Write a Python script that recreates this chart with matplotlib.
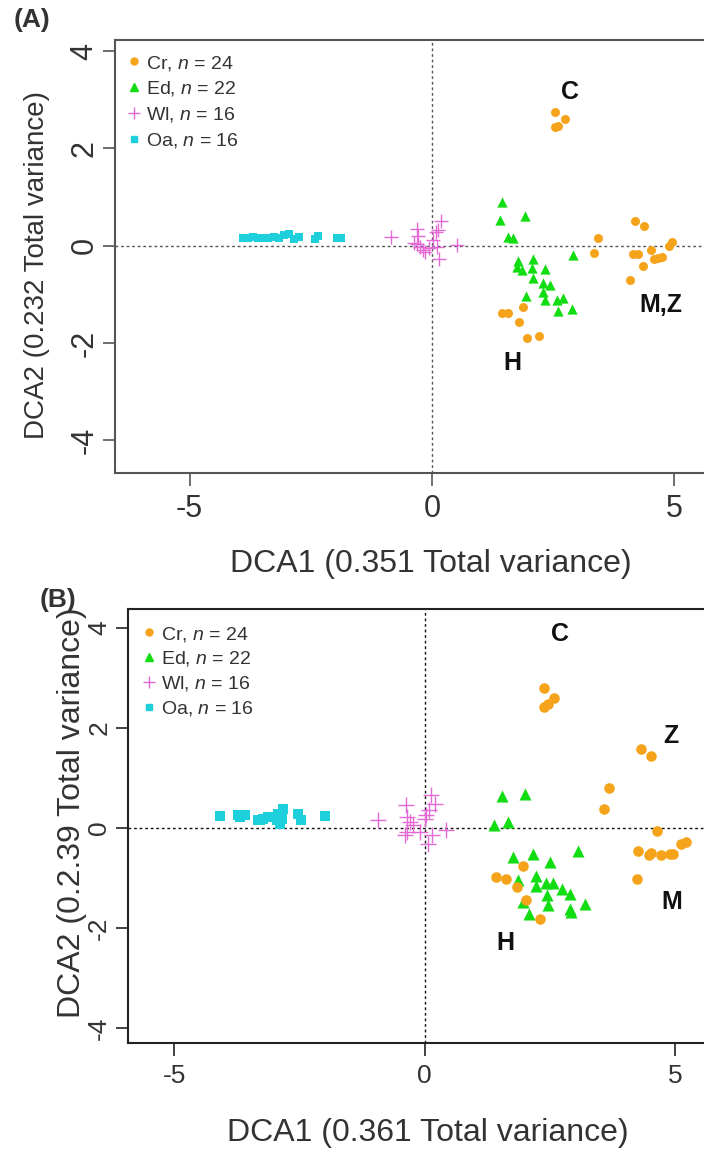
import numpy as np
import matplotlib
matplotlib.use('Agg')
import matplotlib.pyplot as plt
from matplotlib.lines import Line2D

plt.rcParams['font.family'] = ['Liberation Sans', 'DejaVu Sans']
plt.rcParams['mathtext.fontset'] = 'custom'
plt.rcParams['mathtext.rm'] = 'Liberation Sans'
plt.rcParams['mathtext.it'] = 'Liberation Sans:italic'
plt.rcParams['axes.unicode_minus'] = False

# ---- panel A data ----
a_cr_x = [2.54, 2.75, 2.54, 2.60, 3.43, 3.35, 4.19, 4.38, 4.15, 4.25, 4.51, 4.36,
          4.58, 4.66, 4.74, 4.89, 4.96, 4.08, 1.44, 1.57, 1.88, 1.80, 1.95, 2.21]
a_cr_y = [2.76, 2.60, 2.45, 2.47, 0.17, -0.15, 0.50, 0.40, -0.17, -0.17, -0.08, -0.41,
          -0.27, -0.25, -0.23, -0.01, 0.07, -0.70, -1.38, -1.38, -1.26, -1.56, -1.90, -1.86]
a_ed_x = [1.44, 1.40, 1.92, 1.57, 1.68, 2.90, 1.78, 2.08, 1.75, 1.85, 2.06,
          2.33, 2.09, 2.29, 2.43, 2.29, 1.94, 2.33, 2.57, 2.71, 2.60, 2.88]
a_ed_y = [0.91, 0.53, 0.62, 0.19, 0.16, -0.18, -0.32, -0.27, -0.43, -0.49, -0.46,
          -0.48, -0.66, -0.77, -0.80, -0.94, -1.03, -1.12, -1.12, -1.08, -1.35, -1.30]
a_wl_x = [-0.85, -0.31, -0.29, -0.31, -0.25, -0.19, -0.14, -0.06,
          0.10, 0.08, 0.12, 0.19, 0.52, 0.14, 0.02, -0.37]
a_wl_y = [0.19, 0.35, 0.21, 0.04, -0.02, -0.08, -0.12, -0.04,
          -0.02, 0.29, 0.33, 0.51, 0.02, -0.27, 0.12, 0.06]
a_oa_x = [-3.90, -3.79, -3.69, -3.59, -3.48, -3.38, -3.26, -3.15,
          -3.05, -2.95, -2.84, -2.74, -2.41, -2.35, -1.96, -1.88]
a_oa_y = [0.17, 0.16, 0.18, 0.15, 0.17, 0.16, 0.18, 0.15,
          0.22, 0.25, 0.13, 0.18, 0.14, 0.20, 0.17, 0.17]

# ---- panel B data ----
b_cr_x = [2.38, 2.58, 2.38, 2.45, 4.32, 4.52, 3.67, 3.57, 4.63, 4.26, 4.47, 4.52,
          4.72, 4.89, 4.95, 5.11, 5.21, 4.23, 1.43, 1.63, 1.95, 1.84, 2.01, 2.30]
b_cr_y = [2.81, 2.61, 2.43, 2.48, 1.59, 1.45, 0.81, 0.39, -0.05, -0.46, -0.54, -0.49,
          -0.54, -0.52, -0.51, -0.31, -0.27, -1.01, -0.97, -1.01, -0.76, -1.17, -1.43, -1.81]
b_ed_x = [1.55, 1.99, 1.39, 1.66, 1.75, 2.16, 2.49, 3.05, 1.86, 2.21, 2.21,
          2.42, 2.56, 2.74, 2.89, 2.44, 2.46, 1.95, 2.89, 3.19, 2.08, 2.92]
b_ed_y = [0.64, 0.69, 0.06, 0.13, -0.57, -0.51, -0.67, -0.45, -1.03, -0.96, -1.16,
          -1.09, -1.09, -1.21, -1.32, -1.34, -1.54, -1.47, -1.61, -1.52, -1.72, -1.67]
b_wl_x = [-0.93, -0.38, -0.36, -0.30, -0.36, -0.40, -0.10, 0.00,
          0.03, 0.13, 0.20, 0.09, 0.15, 0.07, 0.43, -0.23]
b_wl_y = [0.16, 0.46, 0.23, 0.13, -0.07, -0.14, -0.07, 0.19,
          0.26, 0.66, 0.49, 0.36, -0.14, -0.31, -0.03, 0.06]
b_oa_x = [-4.08, -3.72, -3.69, -3.59, -3.32, -3.29, -3.22, -3.12,
          -2.95, -2.92, -2.89, -2.85, -2.82, -2.52, -2.46, -1.99]
b_oa_y = [0.24, 0.26, 0.23, 0.26, 0.17, 0.16, 0.19, 0.23,
          0.16, 0.29, 0.09, 0.19, 0.39, 0.28, 0.16, 0.24]

labels = [r'Cr, $n$ = 24', r'Ed, $n$ = 22', r'Wl, $n$ = 16', r'Oa, $n$ = 16']
c_cr, c_ed, c_wl, c_oa = '#F5A31A', '#12DD12', '#E46AD6', '#1ECFDC'

fig = plt.figure(figsize=(7.04, 11.55), dpi=100)


def panel(ax, cr, ed, wl, oa, s, dash_col, spine_col):
    ax.axhline(0, color=dash_col, lw=1, ls=(0, (2, 2)), zorder=1)
    ax.axvline(0, color=dash_col, lw=1, ls=(0, (2, 2)), zorder=1)
    ax.scatter(*oa, marker='s', s=s * 0.9, color=c_oa, lw=0, zorder=3)
    ax.scatter(*wl, marker='+', s=s * 2.4, color=c_wl, lw=1, zorder=3)
    ax.scatter(*ed, marker='^', s=s * 1.3, color=c_ed, lw=0, zorder=3)
    ax.scatter(*cr, marker='o', s=s, color=c_cr, lw=0, zorder=4)
    for side in ['left', 'bottom', 'top']:
        ax.spines[side].set_color(spine_col)
        ax.spines[side].set_linewidth(1.5)
    ax.spines['right'].set_visible(False)
    ax.set_xticks([-5, 0, 5])
    ax.set_yticks([-4, -2, 0, 2, 4])
    ax.tick_params(direction='out', length=9, width=1.2, color=spine_col, labelcolor='#333333')
    for t in ax.get_yticklabels():
        t.set_rotation(90)
        t.set_va('center')
    handles = [Line2D([], [], ls='', marker='o', color=c_cr, markersize=5),
               Line2D([], [], ls='', marker='^', color=c_ed, markersize=6),
               Line2D([], [], ls='', marker='+', color=c_wl, markersize=8, mew=1),
               Line2D([], [], ls='', marker='s', color=c_oa, markersize=5)]
    return handles


bold = dict(fontsize=18, fontweight='bold', ha='center', va='center', color='#111111')

# panel A
axA = fig.add_axes([115 / 704, 1 - 473 / 1155, 1 - 115 / 704, 433 / 1155])
h = panel(axA, (a_cr_x, a_cr_y), (a_ed_x, a_ed_y), (a_wl_x, a_wl_y),
          (a_oa_x, a_oa_y), 42, '#555555', '#555555')
axA.set_xlim(-6.54, 5.61)
axA.set_ylim(-4.67, 4.23)
axA.tick_params(labelsize=22)
axA.tick_params(axis='x', pad=6)
axA.tick_params(axis='y', pad=2)
axA.legend(h, labels, loc='upper left', bbox_to_anchor=(0.0, 1.0), frameon=False,
           fontsize=14, handlelength=0.6, handletextpad=0.3, labelspacing=0.35,
           borderaxespad=0.3, labelcolor='#333333')
axA.set_xlabel('DCA1 (0.351 Total variance)', fontsize=23, color='#333333')
axA.xaxis.set_label_coords(0.537, -0.175)
axA.set_ylabel('DCA2 (0.232 Total variance)', fontsize=20, color='#333333')
axA.yaxis.set_label_coords(-0.11, 0.48)
axA.text(2.85, 3.17, 'C', **bold)
axA.text(1.65, -2.40, 'H', **bold)
axA.text(4.72, -1.21, 'M,Z', **bold)
fig.text(14 / 704, 1 - 20 / 1155, '(A)', fontsize=19, fontweight='bold',
         ha='left', va='center', color='#333333')

# panel B
axB = fig.add_axes([128 / 704, 1 - 1043 / 1155, 1 - 128 / 704, 434 / 1155])
h = panel(axB, (b_cr_x, b_cr_y), (b_ed_x, b_ed_y), (b_wl_x, b_wl_y),
          (b_oa_x, b_oa_y), 58, '#111111', '#222222')
axB.set_xlim(-5.92, 5.57)
axB.set_ylim(-4.30, 4.38)
axB.tick_params(labelsize=19)
axB.tick_params(axis='x', pad=6)
axB.tick_params(axis='y', pad=3)
axB.legend(h, labels, loc='upper left', bbox_to_anchor=(0.0, 1.0), frameon=False,
           fontsize=14, handlelength=0.6, handletextpad=0.3, labelspacing=0.3,
           borderaxespad=0.4, labelcolor='#333333')
axB.set_xlabel('DCA1 (0.361 Total variance)', fontsize=23, color='#333333')
axB.xaxis.set_label_coords(0.52, -0.172)
axB.set_ylabel('DCA2 (0.2.39 Total variance)', fontsize=23, color='#333333')
axB.yaxis.set_label_coords(-0.072, 0.53)
axB.text(2.69, 3.88, 'C', **bold)
axB.text(4.90, 1.84, 'Z', **bold)
axB.text(4.92, -1.48, 'M', **bold)
axB.text(1.61, -2.30, 'H', **bold)
fig.text(40 / 704, 1 - 600 / 1155, '(B)', fontsize=19, fontweight='bold',
         ha='left', va='center', color='#333333')

fig.savefig('out.png', dpi=100)
